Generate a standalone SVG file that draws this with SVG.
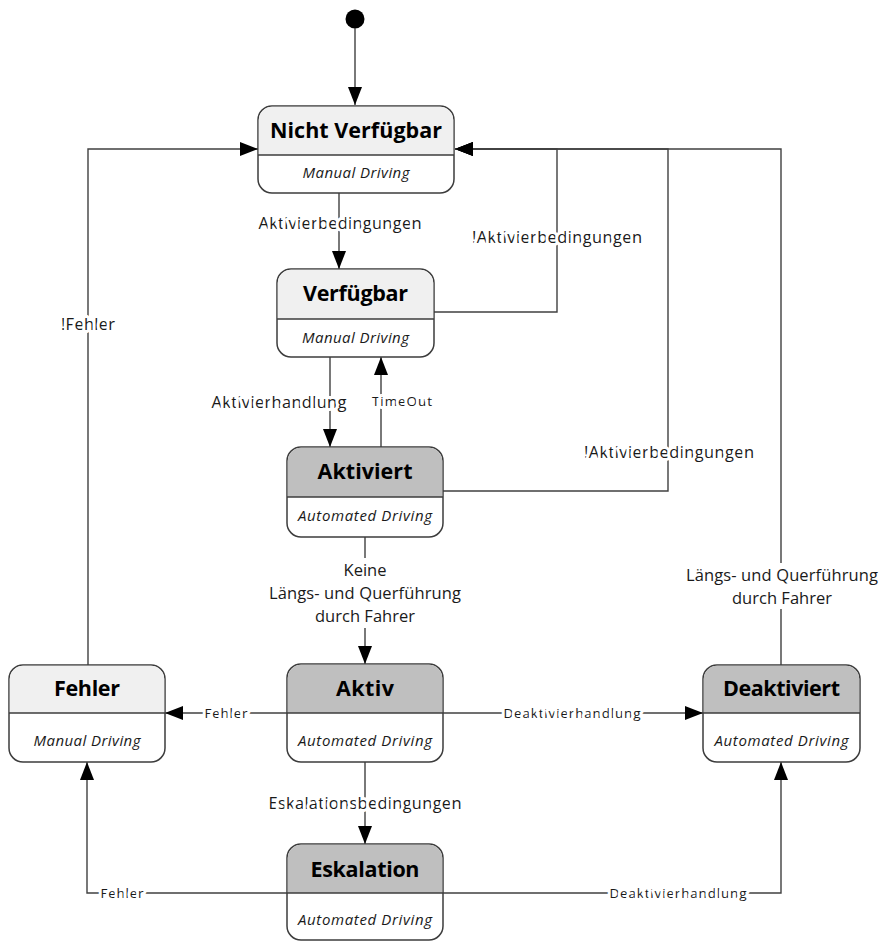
<svg xmlns="http://www.w3.org/2000/svg" width="882" height="942" viewBox="0 0 882 942">
  <style>
    .box { stroke: #3c3c3c; stroke-width: 1.5; fill: #ffffff; }
    .hdr-light { fill: #f0f0f0; }
    .hdr-dark { fill: #bfbfbf; }
    .div { stroke: #3c3c3c; stroke-width: 1.5; }
    .title { font-family: "Open Sans", "Noto Sans", sans-serif; font-weight: bold; font-size: 21.5px; fill: #000000; text-anchor: middle; }
    .sub { font-family: "Open Sans", "Noto Sans", sans-serif; font-style: italic; font-size: 15px; fill: #1a1a1a; text-anchor: middle; }
    .edge { fill: none; stroke: #404040; stroke-width: 1.4; }
    .lbl { font-family: "Open Sans", "Noto Sans", sans-serif; font-size: 16.5px; fill: #1a1a1a; text-anchor: middle; dominant-baseline: central; paint-order: stroke; stroke: #ffffff; stroke-width: 6px; stroke-linejoin: round; }
    .lbl-s { font-size: 13.5px; }
    .ml { font-family: "Open Sans", "Noto Sans", sans-serif; font-size: 16.5px; fill: #1a1a1a; text-anchor: middle; }
  </style>
  <defs>
    <marker id="arrow" markerUnits="userSpaceOnUse" markerWidth="18" markerHeight="14" refX="18" refY="7" orient="auto">
      <path d="M0,0 L18,7 L0,14 Z" fill="#000000"/>
    </marker>
  </defs>

  <!-- initial pseudo-state -->
  <circle id="start" cx="355" cy="19" r="9.5" fill="#000000"/>

  <g id="connectors">
    <line class="edge" x1="355" y1="28" x2="355" y2="105" marker-end="url(#arrow)"/>
    <line class="edge" x1="339" y1="193" x2="339" y2="269" marker-end="url(#arrow)"/>
    <polyline class="edge" points="434,312 557,312 557,149 455,149" marker-end="url(#arrow)"/>
    <line class="edge" x1="330" y1="357" x2="330" y2="447" marker-end="url(#arrow)"/>
    <line class="edge" x1="381" y1="447" x2="381" y2="357" marker-end="url(#arrow)"/>
    <polyline class="edge" points="443,491 668,491 668,149 455,149" marker-end="url(#arrow)"/>
    <polyline class="edge" points="781,665 781,149 455,149" marker-end="url(#arrow)"/>
    <line class="edge" x1="365" y1="537" x2="365" y2="664" marker-end="url(#arrow)"/>
    <line class="edge" x1="287" y1="713" x2="165" y2="713" marker-end="url(#arrow)"/>
    <line class="edge" x1="443" y1="713" x2="703" y2="713" marker-end="url(#arrow)"/>
    <line class="edge" x1="365" y1="762" x2="365" y2="844" marker-end="url(#arrow)"/>
    <polyline class="edge" points="287,893 87,893 87,762" marker-end="url(#arrow)"/>
    <polyline class="edge" points="443,893 781,893 781,762" marker-end="url(#arrow)"/>
    <polyline class="edge" points="88,665 88,149 258,149" marker-end="url(#arrow)"/>

    <!-- transition labels -->
    <text class="lbl" x="340" y="222" textLength="163">Aktivierbedingungen</text>
    <text class="lbl" x="557" y="236" textLength="170">!Aktivierbedingungen</text>
    <text class="lbl" x="279" y="401" textLength="135">Aktivierhandlung</text>
    <text class="lbl lbl-s" x="402" y="401" textLength="60">TimeOut</text>
    <text class="lbl" x="669" y="451" textLength="170">!Aktivierbedingungen</text>
    <text class="lbl" x="88" y="323" textLength="54">!Fehler</text>
    <rect x="262" y="558" width="206" height="70" fill="#ffffff"/>
    <text class="ml" x="365" y="576">Keine</text>
    <text class="ml" x="365" y="599" textLength="192">Längs- und Querführung</text>
    <text class="ml" x="365" y="622" textLength="100">durch Fahrer</text>
    <rect x="684" y="563" width="196" height="46" fill="#ffffff"/>
    <text class="ml" x="782" y="581" textLength="192">Längs- und Querführung</text>
    <text class="ml" x="782" y="604" textLength="100">durch Fahrer</text>
    <text class="lbl lbl-s" x="226" y="713" textLength="43">Fehler</text>
    <text class="lbl lbl-s" x="572" y="713" textLength="137">Deaktivierhandlung</text>
    <text class="lbl" x="365" y="802" textLength="193">Eskalationsbedingungen</text>
    <text class="lbl lbl-s" x="122" y="893" textLength="43">Fehler</text>
    <text class="lbl lbl-s" x="678" y="893" textLength="137">Deaktivierhandlung</text>
  </g>

  <g id="nicht-verfuegbar">
    <rect class="box" x="258" y="106" width="196" height="87" rx="14"/>
    <path class="hdr-light" d="M272,106.75 H440 A13.25,13.25 0 0 1 453.25,120 V155 H258.75 V120 A13.25,13.25 0 0 1 272,106.75 Z"/>
    <line class="div" x1="258" y1="155" x2="454" y2="155"/>
    <text class="title" x="356" y="138" textLength="172">Nicht Verfügbar</text>
    <text class="sub" x="356" y="178" textLength="107">Manual Driving</text>
  </g>

  <g id="verfuegbar">
    <rect class="box" x="277" y="269" width="157" height="88" rx="14"/>
    <path class="hdr-light" d="M291,269.75 H420 A13.25,13.25 0 0 1 433.25,283 V319 H277.75 V283 A13.25,13.25 0 0 1 291,269.75 Z"/>
    <line class="div" x1="277" y1="319" x2="434" y2="319"/>
    <text class="title" x="355.5" y="301" textLength="105">Verfügbar</text>
    <text class="sub" x="355.5" y="343" textLength="107">Manual Driving</text>
  </g>

  <g id="aktiviert">
    <rect class="box" x="287" y="447" width="156" height="90" rx="14"/>
    <path class="hdr-dark" d="M301,447.75 H429 A13.25,13.25 0 0 1 442.25,461 V497 H287.75 V461 A13.25,13.25 0 0 1 301,447.75 Z"/>
    <line class="div" x1="287" y1="497" x2="443" y2="497"/>
    <text class="title" x="365" y="479" textLength="95">Aktiviert</text>
    <text class="sub" x="365" y="521" textLength="134">Automated Driving</text>
  </g>

  <g id="fehler">
    <rect class="box" x="9" y="665" width="156" height="97" rx="14"/>
    <path class="hdr-light" d="M23,665.75 H151 A13.25,13.25 0 0 1 164.25,679 V713 H9.75 V679 A13.25,13.25 0 0 1 23,665.75 Z"/>
    <line class="div" x1="9" y1="713" x2="165" y2="713"/>
    <text class="title" x="87" y="696" textLength="66">Fehler</text>
    <text class="sub" x="87" y="746" textLength="107">Manual Driving</text>
  </g>

  <g id="aktiv">
    <rect class="box" x="287" y="664" width="156" height="98" rx="14"/>
    <path class="hdr-dark" d="M301,664.75 H429 A13.25,13.25 0 0 1 442.25,678 V713 H287.75 V678 A13.25,13.25 0 0 1 301,664.75 Z"/>
    <line class="div" x1="287" y1="713" x2="443" y2="713"/>
    <text class="title" x="365" y="696" textLength="58">Aktiv</text>
    <text class="sub" x="365" y="746" textLength="134">Automated Driving</text>
  </g>

  <g id="deaktiviert">
    <rect class="box" x="703" y="665" width="157" height="97" rx="14"/>
    <path class="hdr-dark" d="M717,665.75 H846 A13.25,13.25 0 0 1 859.25,679 V713 H703.75 V679 A13.25,13.25 0 0 1 717,665.75 Z"/>
    <line class="div" x1="703" y1="713" x2="860" y2="713"/>
    <text class="title" x="781.5" y="696" textLength="117">Deaktiviert</text>
    <text class="sub" x="781.5" y="746" textLength="134">Automated Driving</text>
  </g>

  <g id="eskalation">
    <rect class="box" x="287" y="844" width="156" height="96" rx="14"/>
    <path class="hdr-dark" d="M301,844.75 H429 A13.25,13.25 0 0 1 442.25,858 V893 H287.75 V858 A13.25,13.25 0 0 1 301,844.75 Z"/>
    <line class="div" x1="287" y1="893" x2="443" y2="893"/>
    <text class="title" x="365" y="877" textLength="109">Eskalation</text>
    <text class="sub" x="365" y="925" textLength="134">Automated Driving</text>
  </g>
</svg>
